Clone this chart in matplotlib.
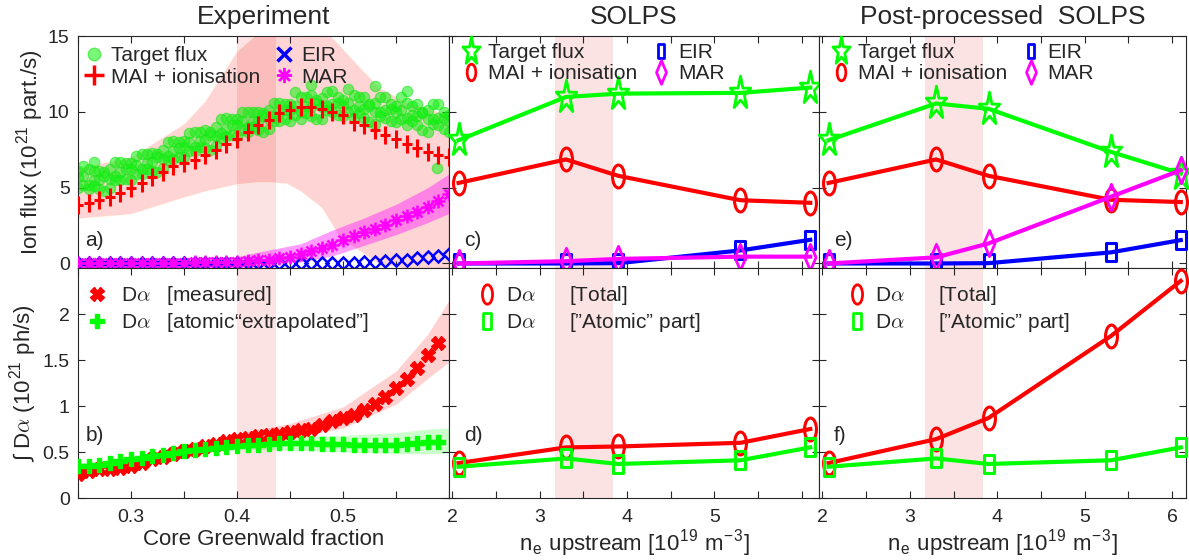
import numpy as np
import matplotlib
matplotlib.use("Agg")
import matplotlib.pyplot as plt
from matplotlib.path import Path
from matplotlib.transforms import Affine2D
from matplotlib.lines import Line2D

plt.rcParams['font.family'] = ['Liberation Sans', 'DejaVu Sans']
plt.rcParams['mathtext.fontset'] = 'cm'
plt.rcParams['text.color'] = '#262626'
plt.rcParams['axes.labelcolor'] = '#262626'
plt.rcParams['xtick.color'] = '#262626'
plt.rcParams['ytick.color'] = '#262626'

# ---------------- experiment (a, b) ----------------
fgw_scatter = [0.250, 0.255, 0.260, 0.265, 0.270, 0.275, 0.280, 0.285, 0.290, 0.295,
               0.300, 0.305, 0.310, 0.315, 0.320, 0.325, 0.330, 0.335, 0.340, 0.345,
               0.350, 0.355, 0.360, 0.365, 0.370, 0.375, 0.380, 0.385, 0.390, 0.395,
               0.400, 0.405, 0.410, 0.415, 0.420, 0.425, 0.430, 0.435, 0.440, 0.445,
               0.450, 0.455, 0.460, 0.465, 0.470, 0.475, 0.480, 0.485, 0.490, 0.495,
               0.500, 0.505, 0.510, 0.515, 0.520, 0.525, 0.530, 0.535, 0.540, 0.545,
               0.550, 0.555, 0.560, 0.565, 0.570, 0.575, 0.580, 0.585, 0.590, 0.595,
               0.600]
target_a = [6.1, 5.2, 6.2, 5.5, 4.9, 6.0, 5.6, 6.7, 5.5, 6.2,
            6.6, 5.9, 7.2, 6.6, 6.1, 7.2, 6.9, 8.0, 6.9, 7.6,
            8.1, 7.4, 8.7, 8.1, 7.6, 8.7, 8.4, 9.5, 8.4, 9.1,
            9.5, 8.8, 10.0, 9.4, 8.8, 9.9, 9.5, 10.6, 9.4, 10.1,
            10.5, 9.8, 11.0, 10.4, 9.7, 10.8, 10.3, 11.3, 10.0, 10.6,
            10.8, 10.0, 11.1, 10.4, 9.6, 10.5, 10.0, 11.0, 9.6, 10.2,
            10.4, 9.5, 10.6, 9.8, 9.1, 10.0, 9.5, 10.5, 9.1, 9.6,
            9.8]
target_b = [5.0, 5.8, 5.2, 6.1, 5.5, 4.8, 6.2, 5.5, 6.0, 6.6,
            5.5, 6.5, 6.2, 7.2, 6.7, 6.0, 7.5, 6.8, 7.4, 8.0,
            7.0, 8.0, 7.7, 8.7, 8.2, 7.5, 9.0, 8.3, 8.9, 9.5,
            8.4, 9.4, 9.0, 10.0, 9.4, 8.7, 10.1, 9.4, 9.9, 10.5,
            9.4, 10.4, 10.0, 11.0, 10.3, 9.5, 10.9, 10.1, 10.5, 11.0,
            9.7, 10.6, 10.1, 11.0, 10.2, 9.3, 10.6, 9.7, 10.1, 10.5,
            9.3, 10.1, 9.6, 10.4, 9.7, 8.8, 10.1, 9.2, 9.6, 10.0,
            8.7]
target_c = [5.7, 6.4, 4.9, 5.1, 6.1, 5.8, 5.0, 5.8, 6.7, 5.6,
            6.2, 7.1, 5.9, 6.2, 7.3, 7.0, 6.3, 7.1, 8.1, 7.0,
            7.7, 8.6, 7.4, 7.7, 8.8, 8.5, 7.8, 8.6, 9.6, 8.5,
            9.1, 10.0, 8.7, 9.0, 10.0, 9.7, 8.9, 9.7, 10.6, 9.5,
            10.1, 11.3, 9.5, 9.9, 11.1, 10.6, 9.5, 10.4, 11.4, 9.8,
            10.4, 11.5, 9.6, 9.9, 11.0, 10.4, 9.2, 10.0, 11.0, 9.4,
            10.0, 11.0, 9.1, 9.4, 10.5, 9.9, 8.7, 9.5, 10.5, 8.9,
            9.4]
fgw_outlier = [0.47, 0.53, 0.589, 0.56, 0.265]
target_outlier = [11.8, 11.7, 6.3, 11.4, 6.7]

fgw = [0.25, 0.26, 0.27, 0.28, 0.29, 0.30, 0.31, 0.32, 0.33, 0.34,
       0.35, 0.36, 0.37, 0.38, 0.39, 0.40, 0.41, 0.42, 0.43, 0.44,
       0.45, 0.46, 0.47, 0.48, 0.49, 0.50, 0.51, 0.52, 0.53, 0.54,
       0.55, 0.56, 0.57, 0.58, 0.59, 0.60]
mai_exp = [3.85, 3.96, 4.2, 4.4, 4.66, 4.95, 5.3, 5.67, 6.05, 6.4,
           6.6, 6.8, 7.14, 7.5, 7.87, 8.24, 8.68, 9.12, 9.45, 9.9,
           10.15, 10.33, 10.29, 10.2, 10.0, 9.78, 9.34, 9.12, 8.8, 8.46,
           8.18, 7.9, 7.6, 7.36, 7.14, 7.03]
eir_exp = [0.0, 0.0, 0.0, 0.0, 0.0, 0.0, 0.0, 0.0, 0.0, 0.0,
           0.0, 0.0, 0.0, 0.0, 0.0, 0.0, 0.0, 0.0, 0.0, 0.0,
           0.0, 0.0, 0.0, 0.0, 0.02, 0.03, 0.05, 0.07, 0.1, 0.15,
           0.2, 0.26, 0.33, 0.42, 0.52, 0.62]
mar_exp = [0.05, 0.05, 0.05, 0.05, 0.05, 0.05, 0.05, 0.05, 0.05, 0.06,
           0.06, 0.07, 0.08, 0.09, 0.1, 0.12, 0.15, 0.2, 0.25, 0.35,
           0.45, 0.6, 0.8, 1.0, 1.25, 1.55, 1.8, 2.05, 2.3, 2.55,
           2.85, 3.1, 3.4, 3.75, 4.1, 4.6]

mai_band_x = [0.25, 0.30, 0.35, 0.37, 0.40, 0.42, 0.43, 0.447, 0.46, 0.48,
              0.495, 0.504, 0.52, 0.534, 0.56, 0.60]
mai_hi = [6.3, 7.0, 9.2, 10.7, 14.0, 15.2, 15.8, 16.3, 16.4, 15.5,
          14.5, 13.8, 12.6, 11.6, 10.6, 9.8]
mai_lo = [3.0, 3.3, 4.4, 4.8, 5.27, 5.4, 5.4, 5.3, 4.8, 3.7,
          2.0, 1.4, 0.66, 0.0, -0.3, -0.3]
mar_band_x = [0.25, 0.40, 0.42, 0.46, 0.49, 0.52, 0.55, 0.58, 0.60]
mar_hi = [0.25, 0.45, 0.75, 1.3, 2.2, 3.0, 3.9, 5.0, 5.9]
mar_lo = [-0.25, -0.2, -0.1, 0.1, 0.5, 1.2, 1.9, 2.7, 3.3]

fgw_da = [0.25, 0.26, 0.27, 0.28, 0.29, 0.30, 0.31, 0.32, 0.33, 0.34,
          0.35, 0.36, 0.37, 0.38, 0.39, 0.40, 0.41, 0.42, 0.43, 0.44,
          0.45, 0.46, 0.47, 0.48, 0.49, 0.50, 0.51, 0.52, 0.53, 0.54,
          0.55, 0.56, 0.57, 0.58, 0.59]
da_meas = [0.26, 0.29, 0.31, 0.32, 0.33, 0.35, 0.38, 0.42, 0.45, 0.48,
           0.51, 0.53, 0.56, 0.59, 0.62, 0.64, 0.655, 0.67, 0.69, 0.70,
           0.72, 0.74, 0.75, 0.79, 0.84, 0.87, 0.90, 0.96, 1.02, 1.10,
           1.20, 1.29, 1.41, 1.55, 1.69]
da_atomic = [0.345, 0.345, 0.36, 0.38, 0.40, 0.42, 0.44, 0.455, 0.47, 0.49,
             0.51, 0.52, 0.535, 0.545, 0.556, 0.56, 0.575, 0.58, 0.59, 0.593,
             0.593, 0.593, 0.593, 0.59, 0.59, 0.585, 0.58, 0.58, 0.58, 0.58,
             0.58, 0.585, 0.60, 0.607, 0.607]
da_band_x = [0.25, 0.30, 0.35, 0.40, 0.45, 0.50, 0.55, 0.58, 0.60]
da_meas_hi = [0.30, 0.39, 0.56, 0.70, 0.81, 0.99, 1.38, 1.78, 2.15]
da_meas_lo = [0.22, 0.31, 0.47, 0.59, 0.65, 0.76, 1.02, 1.30, 1.48]
da_atom_hi = [0.38, 0.41, 0.54, 0.62, 0.67, 0.68, 0.71, 0.75, 0.76]
da_atom_lo = [0.30, 0.33, 0.47, 0.53, 0.52, 0.50, 0.48, 0.48, 0.49]

shade_fgw = (0.40, 0.437)

# ---------------- SOLPS (c, d) and post-processed (e, f) ----------------
ne_up = [2.07, 3.3, 3.9, 5.3, 6.1]
solps_target = [8.13, 10.98, 11.2, 11.25, 11.6]
solps_mai = [5.31, 6.86, 5.78, 4.17, 4.0]
solps_eir = [0.0, 0.0, 0.02, 0.86, 1.56]
solps_mar = [0.0, 0.15, 0.3, 0.45, 0.45]
post_target = [8.13, 10.55, 10.2, 7.36, 5.93]
post_mai = [5.31, 6.86, 5.78, 4.2, 4.05]
post_eir = [0.0, 0.0, 0.02, 0.73, 1.54]
post_mar = [0.0, 0.4, 1.32, 4.4, 6.15]
solps_da_total = [0.38, 0.55, 0.56, 0.60, 0.75]
solps_da_atomic = [0.34, 0.43, 0.37, 0.41, 0.55]
post_da_total = [0.38, 0.64, 0.87, 1.76, 2.36]
post_da_atomic = [0.34, 0.43, 0.37, 0.41, 0.55]

shade_ne = (3.17, 3.84)

GREEN = '#00ff00'
RED = '#ff0000'
BLUE = '#0000ff'
MAG = '#ff00ff'
DARK = '#262626'
DOT_FACE = (0.05, 0.95, 0.05, 0.55)
DOT_EDGE = (0.1, 0.9, 0.1, 0.6)


# tall (vertically stretched) marker shapes like in the original figure
def squeeze(path, sx):
    return path.transformed(Affine2D().scale(sx, 1.0))


ELLIPSE = squeeze(Path.unit_circle(), 0.52)
STAR = squeeze(Path.unit_regular_star(5, 0.381966), 0.62)
SQUARE = Path([(-0.5, -1), (0.5, -1), (0.5, 1), (-0.5, 1), (-0.5, -1)],
              [Path.MOVETO, Path.LINETO, Path.LINETO, Path.LINETO, Path.CLOSEPOLY])
DIAMOND = Path([(0, -1), (0.42, 0), (0, 1), (-0.42, 0), (0, -1)],
               [Path.MOVETO, Path.LINETO, Path.LINETO, Path.LINETO, Path.CLOSEPOLY])
TALL_PLUS = Path([(-0.55, 0), (0.55, 0), (0, -1), (0, 1)],
                 [Path.MOVETO, Path.LINETO, Path.MOVETO, Path.LINETO])
ASTERISK = Path([(-1, 0), (1, 0), (0, -1), (0, 1),
                 (-0.72, -0.72), (0.72, 0.72), (-0.72, 0.72), (0.72, -0.72)],
                [Path.MOVETO, Path.LINETO] * 4)

fig = plt.figure(figsize=(11.89, 5.6), dpi=100)
L0, W0 = 0.0656, 0.3120
L1, W1 = 0.3776, 0.3112
L2, W2 = 0.6888, 0.3087
TOP_B, TOP_H = 0.5214, 0.4143
BOT_B, BOT_H = 0.1107, 0.4107

ax_a = fig.add_axes([L0, TOP_B, W0, TOP_H])
ax_c = fig.add_axes([L1, TOP_B, W1, TOP_H])
ax_e = fig.add_axes([L2, TOP_B, W2, TOP_H])
ax_b = fig.add_axes([L0, BOT_B, W0, BOT_H])
ax_d = fig.add_axes([L1, BOT_B, W1, BOT_H])
ax_f = fig.add_axes([L2, BOT_B, W2, BOT_H])

for ax in [ax_a, ax_b, ax_c, ax_d, ax_e, ax_f]:
    ax.tick_params(direction='in', length=5, width=0.8, top=True, right=True,
                   labelsize=14, pad=8)
    ax.tick_params(axis='y', pad=6)
    for s in ax.spines.values():
        s.set_color(DARK)
        s.set_linewidth(0.8)


def add_legend(ax, handles, labels, x, y, ncol=1, cs=0.6, hl=0.8, tp=0.4, ls=0.1):
    leg = ax.legend(handles, labels, loc='upper left', bbox_to_anchor=(x, y), ncol=ncol,
                    frameon=False, fontsize=15, handlelength=hl, handletextpad=tp,
                    columnspacing=cs, labelspacing=ls, borderpad=0, borderaxespad=0)
    for t in leg.get_texts():
        t.set_color(DARK)
    return leg


# ---- a) experiment ion fluxes ----
ax = ax_a
ax.axvspan(*shade_fgw, color='#f08080', alpha=0.22, lw=0, zorder=0)
ax.fill_between(mai_band_x, mai_lo, mai_hi, color='red', alpha=0.17, lw=0.8,
                edgecolor='#ffd8a0', zorder=1)
ax.fill_between(mar_band_x, mar_lo, mar_hi, color=MAG, alpha=0.38, lw=0, zorder=1)
for ys in [target_a, target_b, target_c]:
    ax.plot(fgw_scatter, ys, ls='none', marker='o', ms=7.5, mfc=DOT_FACE,
            mec=DOT_EDGE, mew=0.8, zorder=2)
ax.plot(fgw_outlier, target_outlier, ls='none', marker='o', ms=7.5, mfc=DOT_FACE,
        mec=DOT_EDGE, mew=0.8, zorder=2)
ax.plot(fgw, mai_exp, ls='none', marker=TALL_PLUS, ms=13, mfc='none', mec=RED, mew=2.2, zorder=3)
ax.plot(fgw, eir_exp, ls='none', marker='D', ms=6.5, mfc='none', mec=BLUE, mew=1.8, zorder=3)
ax.plot(fgw, mar_exp, ls='none', marker=ASTERISK, ms=10, mfc='none', mec=MAG, mew=1.8, zorder=4)
ax.set_xlim(0.25, 0.60)
ax.set_ylim(-0.3, 15)
ax.set_yticks([0, 5, 10, 15])
ax.set_xticks([0.25, 0.30, 0.35, 0.40, 0.45, 0.50, 0.55, 0.60])
ax.set_xticklabels([])
ax.set_ylabel(r'Ion flux (10$^{\mathregular{21}}$ part./s)', fontsize=16, labelpad=1)
ax.set_title('Experiment', fontsize=19, pad=9, color=DARK)
ax.text(0.02, 0.12, 'a)', transform=ax.transAxes, fontsize=15, va='center')

h_a = [Line2D([], [], ls='none', marker='o', ms=9, mfc=DOT_FACE, mec=DOT_EDGE),
       Line2D([], [], ls='none', marker='+', ms=14, mec=RED, mew=2.5),
       Line2D([], [], ls='none', marker='x', ms=10, mec=BLUE, mew=2.5),
       Line2D([], [], ls='none', marker=ASTERISK, ms=11, mfc='none', mec=MAG, mew=2)]
lab_a = ['Target flux', 'MAI + ionisation', 'EIR', 'MAR']
add_legend(ax_a, h_a, lab_a, 0.02, 0.955, ncol=2, cs=0.7, hl=0.8, tp=0.45)


# ---- c) and e) SOLPS ion fluxes ----
def solps_top(ax, target, mai, eir, mar, label):
    ax.axvspan(*shade_ne, color='#f08080', alpha=0.22, lw=0, zorder=0)
    ax.plot(ne_up, target, color=GREEN, lw=3, marker=STAR, ms=25, mfc='none', mew=2, clip_on=False, zorder=3)
    ax.plot(ne_up, mai, color=RED, lw=3, marker=ELLIPSE, ms=16.5, mfc='none', mew=2.2, clip_on=False, zorder=3)
    ax.plot(ne_up, eir, color=BLUE, lw=3, marker=SQUARE, ms=13, mfc='none', mew=2.2, clip_on=False, zorder=3)
    ax.plot(ne_up, mar, color=MAG, lw=3, marker=DIAMOND, ms=19, mfc='none', mew=2, clip_on=False, zorder=4)
    ax.set_ylim(-0.3, 15)
    ax.set_yticks([0, 5, 10, 15])
    ax.set_yticklabels([])
    ax.set_xticks([2, 2.5, 3, 3.5, 4, 4.5, 5, 5.5, 6])
    ax.set_xticklabels([])
    ax.text(0.04, 0.12, label, transform=ax.transAxes, fontsize=15, va='center')
    h = [Line2D([], [], ls='none', marker=STAR, ms=21, mfc='none', mec=GREEN, mew=2),
         Line2D([], [], ls='none', marker=ELLIPSE, ms=12, mfc='none', mec=RED, mew=2),
         Line2D([], [], ls='none', marker=SQUARE, ms=10, mfc='none', mec=BLUE, mew=2),
         Line2D([], [], ls='none', marker=DIAMOND, ms=17, mfc='none', mec=MAG, mew=2)]
    add_legend(ax, h, lab_a, 0.035, 0.97, ncol=2, cs=0.7, hl=0.9, tp=0.35)


solps_top(ax_c, solps_target, solps_mai, solps_eir, solps_mar, 'c)')
ax_c.set_xlim(1.96, 6.2)
ax_c.set_title('SOLPS', fontsize=19, pad=9, color=DARK)
solps_top(ax_e, post_target, post_mai, post_eir, post_mar, 'e)')
ax_e.set_xlim(1.96, 6.16)
ax_e.set_title('Post-processed  SOLPS', fontsize=19, pad=9, color=DARK)

# ---- b) experiment D alpha ----
ax = ax_b
ax.axvspan(*shade_fgw, color='#f08080', alpha=0.22, lw=0, zorder=0)
ax.fill_between(da_band_x, da_meas_lo, da_meas_hi, color='red', alpha=0.18, lw=0, zorder=1)
ax.fill_between(da_band_x, da_atom_lo, da_atom_hi, color=GREEN, alpha=0.2, lw=0, zorder=1)
ax.plot(fgw_da, da_meas, ls='none', marker='X', ms=9.5, color=RED, mec=RED, zorder=3)
ax.plot(fgw_da, da_atomic, ls='none', marker='P', ms=10, color=GREEN, mec=GREEN, zorder=4)
ax.set_xlim(0.25, 0.60)
ax.set_ylim(0, 2.5)
ax.set_yticks([0, 0.5, 1, 1.5, 2])
ax.set_yticklabels(['0', '0.5', '1', '1.5', '2'])
ax.set_xticks([0.25, 0.30, 0.35, 0.40, 0.45, 0.50, 0.55, 0.60])
ax.set_xticklabels(['', '0.3', '', '0.4', '', '0.5', '', ''])
ax.set_xlabel('Core Greenwald fraction', fontsize=16, labelpad=2)
ax.set_ylabel('\u222b D$\\alpha$ (10$^{\\mathregular{21}}$ ph/s)', fontsize=16, labelpad=2)
ax.text(0.02, 0.27, 'b)', transform=ax.transAxes, fontsize=15, va='center')
h_b = [Line2D([], [], ls='none', marker='X', ms=9.5, color=RED),
       Line2D([], [], ls='none', marker='P', ms=10, color=GREEN)]
add_legend(ax_b, h_b, ['D$\\alpha$   [measured]', 'D$\\alpha$   [atomic\u201cextrapolated\u201d]'],
           0.03, 0.93, hl=0.8, tp=0.75, ls=0.2)


# ---- d) and f) SOLPS D alpha ----
def solps_bottom(ax, total, atomic, label, xlabels):
    ax.axvspan(*shade_ne, color='#f08080', alpha=0.22, lw=0, zorder=0)
    ax.plot(ne_up, total, color=RED, lw=3, marker=ELLIPSE, ms=16.5, mfc='none', mew=2.2, clip_on=False, zorder=3)
    ax.plot(ne_up, atomic, color=GREEN, lw=3, marker=SQUARE, ms=13, mfc='none', mew=2.2, clip_on=False, zorder=4)
    ax.set_ylim(0, 2.5)
    ax.set_yticks([0, 0.5, 1, 1.5, 2])
    ax.set_yticklabels([])
    ax.set_xticks([2, 2.5, 3, 3.5, 4, 4.5, 5, 5.5, 6])
    ax.set_xticklabels(xlabels)
    ax.set_xlabel(r'n$_{\mathregular{e}}$ upstream [10$^{\mathregular{19}}$ m$^{\mathregular{-3}}$]',
                  fontsize=16, labelpad=2)
    ax.text(0.04, 0.27, label, transform=ax.transAxes, fontsize=15, va='center')
    h = [Line2D([], [], ls='none', marker=ELLIPSE, ms=14, mfc='none', mec=RED, mew=2),
         Line2D([], [], ls='none', marker=SQUARE, ms=12, mfc='none', mec=GREEN, mew=2)]
    add_legend(ax, h, ['D$\\alpha$      [Total]', 'D$\\alpha$      [\u201dAtomic\u201d part]'],
               0.08, 0.93, hl=0.8, tp=0.5, ls=0.2)


solps_bottom(ax_d, solps_da_total, solps_da_atomic, 'd)', ['2', '', '3', '', '4', '', '5', '', ''])
ax_d.set_xlim(1.96, 6.2)
solps_bottom(ax_f, post_da_total, post_da_atomic, 'f)', ['2', '', '3', '', '4', '', '5', '', '6'])
ax_f.set_xlim(1.96, 6.16)

fig.savefig('out.png', dpi=100)
